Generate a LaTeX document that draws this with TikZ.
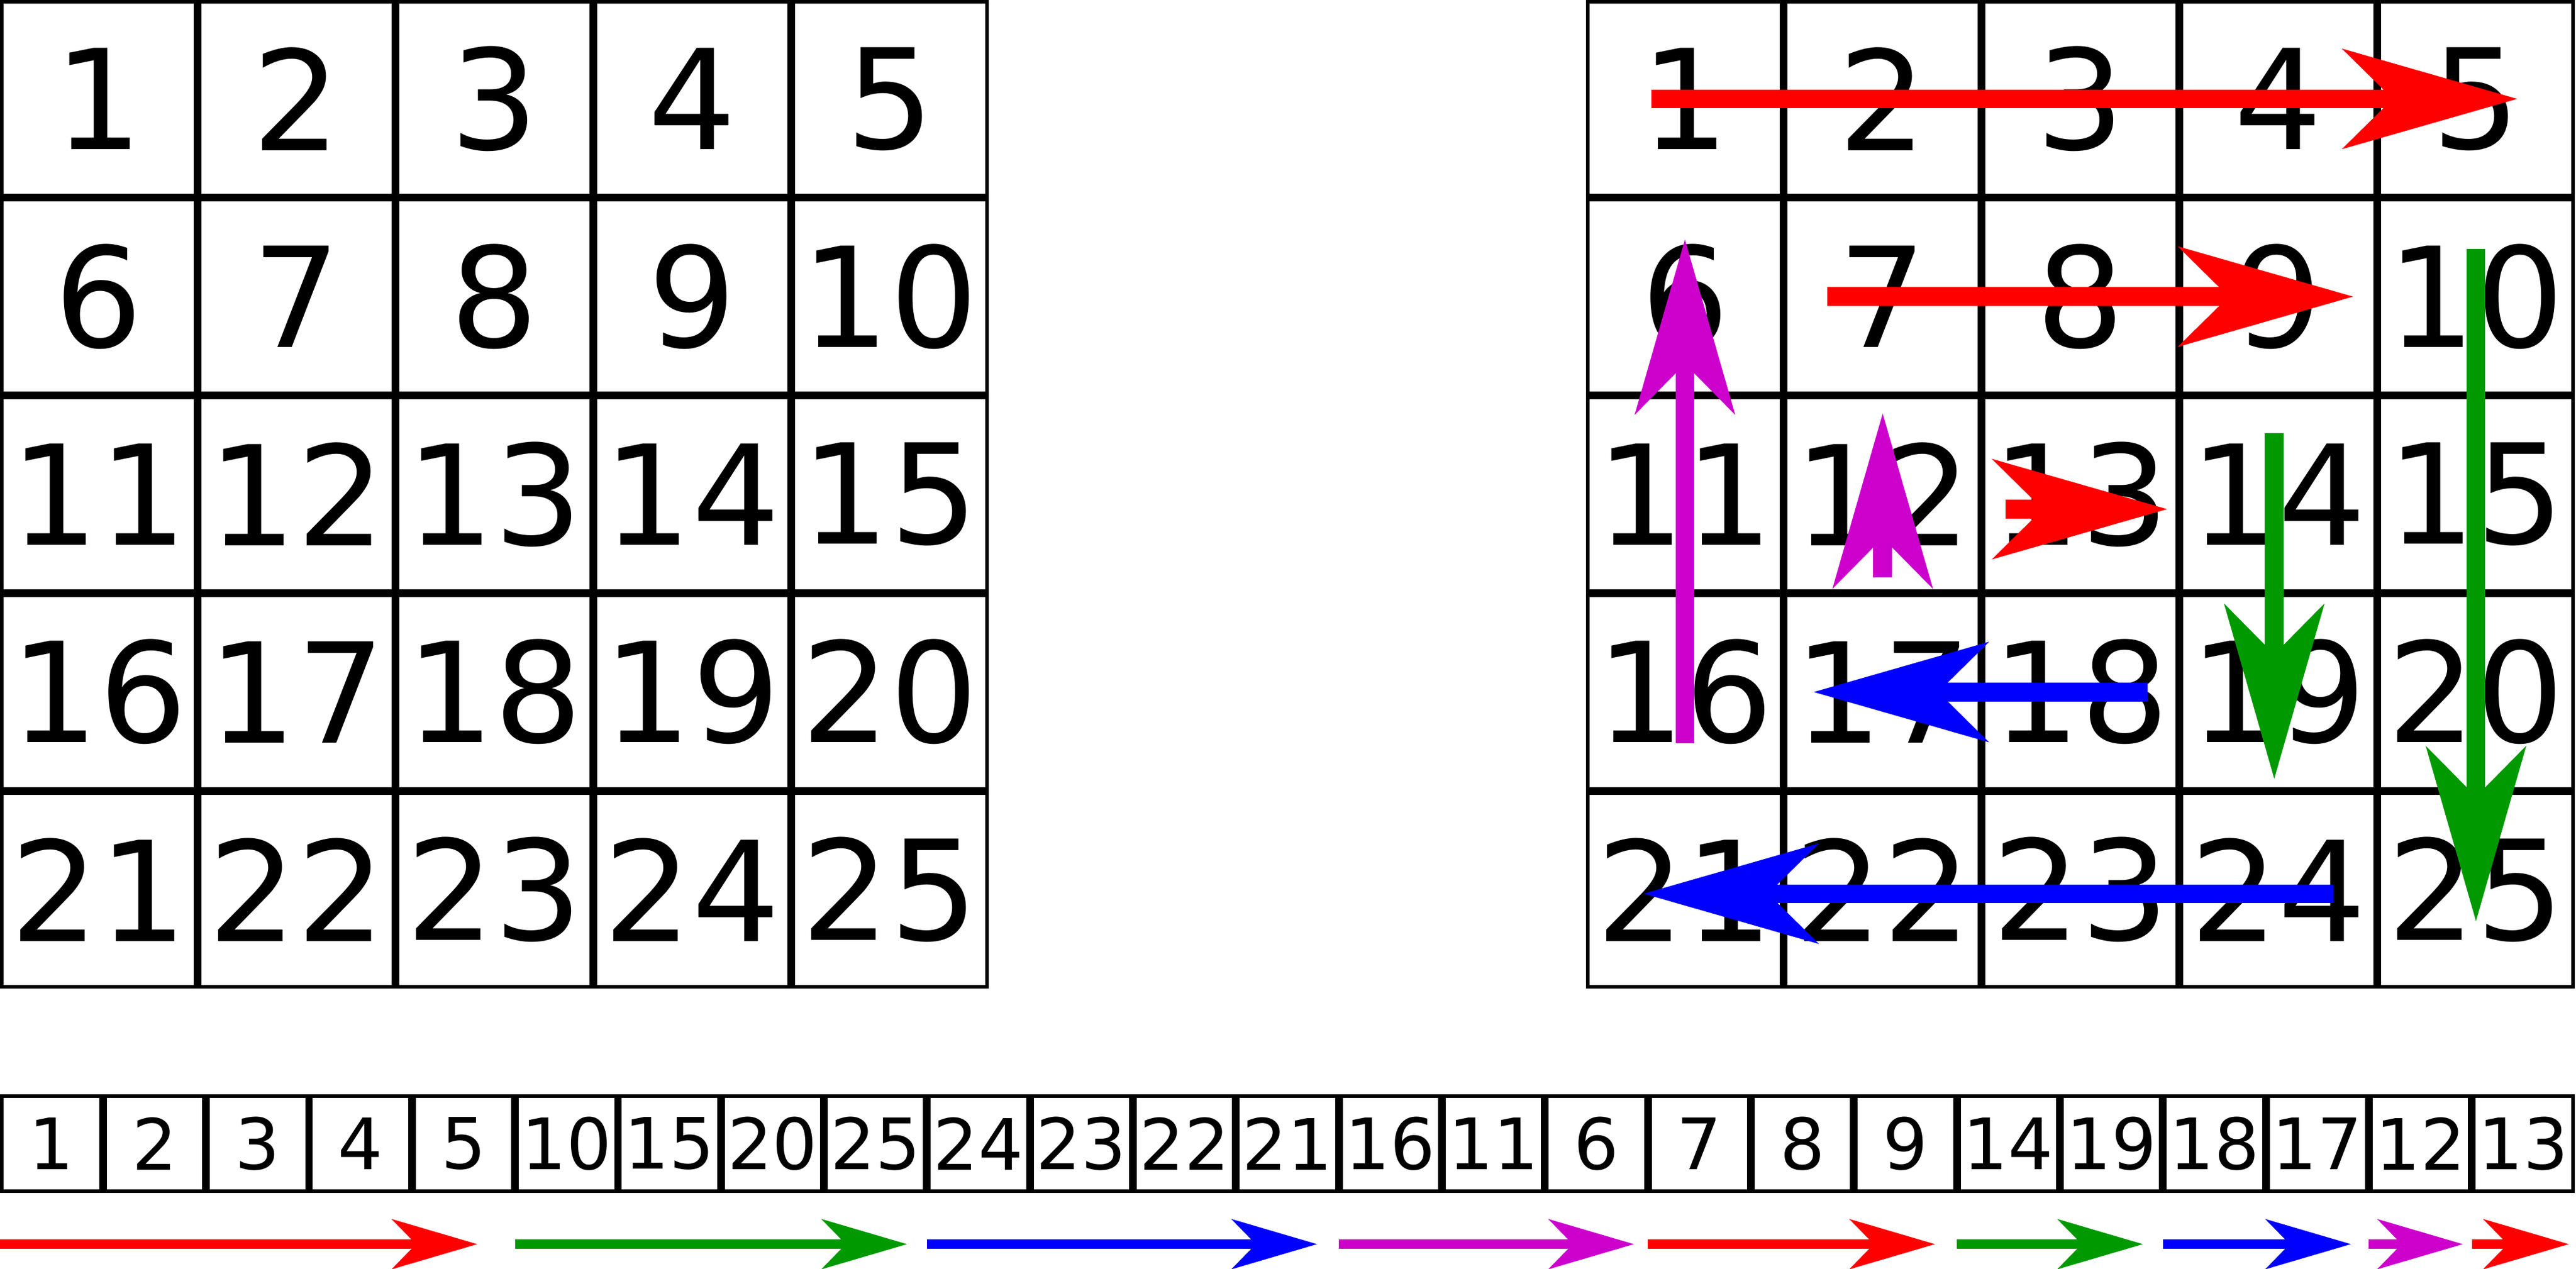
\documentclass[tikz,border=0pt]{standalone}
\usepackage{fontspec}
\setmainfont{DejaVu Sans}
\usepackage{tikz}
\usetikzlibrary{arrows.meta}
\definecolor{pathred}{RGB}{255,0,0}
\definecolor{pathgreen}{RGB}{0,153,0}
\definecolor{pathblue}{RGB}{0,0,255}
\definecolor{pathmagenta}{RGB}{204,0,204}
\tikzstyle{cell}=[draw,line width=0.55pt,minimum size=1cm-0.55pt,inner sep=0pt,font=\fontsize{20}{24}\selectfont]
\tikzstyle{scell}=[draw,line width=0.55pt,minimum width=0.5208cm-0.55pt,minimum height=0.5cm-0.55pt,inner sep=0pt,font=\fontsize{10.2}{12}\selectfont]
\tikzstyle{bigarrow}=[line width=2.7pt,-{Stealth[length=8.8mm,width=5mm,inset=2.5mm]}]
\tikzstyle{smallarrow}=[line width=1.4pt,-{Stealth[length=4.3mm,width=2.5mm,inset=1.2mm]}]
\newcommand{\rowgap}{-0.258cm}

\begin{document}
\begin{tikzpicture}
    \useasboundingbox (0,0) rectangle (13.026,-6.418);
% left grid
    \node[cell] (a1) at (0.5,-0.5) {1};
    \node[cell] (a2) at (1.5,-0.5) {2};
    \node[cell] (a3) at (2.5,-0.5) {3};
    \node[cell] (a4) at (3.5,-0.5) {4};
    \node[cell] (a5) at (4.5,-0.5) {5};
    \node[cell] (a6) at (0.5,-1.5) {6};
    \node[cell] (a7) at (1.5,-1.5) {7};
    \node[cell] (a8) at (2.5,-1.5) {8};
    \node[cell] (a9) at (3.5,-1.5) {9};
    \node[cell] (a10) at (4.5,-1.5) {10};
    \node[cell] (a11) at (0.5,-2.5) {11};
    \node[cell] (a12) at (1.5,-2.5) {12};
    \node[cell] (a13) at (2.5,-2.5) {13};
    \node[cell] (a14) at (3.5,-2.5) {14};
    \node[cell] (a15) at (4.5,-2.5) {15};
    \node[cell] (a16) at (0.5,-3.5) {16};
    \node[cell] (a17) at (1.5,-3.5) {17};
    \node[cell] (a18) at (2.5,-3.5) {18};
    \node[cell] (a19) at (3.5,-3.5) {19};
    \node[cell] (a20) at (4.5,-3.5) {20};
    \node[cell] (a21) at (0.5,-4.5) {21};
    \node[cell] (a22) at (1.5,-4.5) {22};
    \node[cell] (a23) at (2.5,-4.5) {23};
    \node[cell] (a24) at (3.5,-4.5) {24};
    \node[cell] (a25) at (4.5,-4.5) {25};
% right grid
    \node[cell] (b1) at (8.52,-0.5) {1};
    \node[cell] (b2) at (9.52,-0.5) {2};
    \node[cell] (b3) at (10.52,-0.5) {3};
    \node[cell] (b4) at (11.52,-0.5) {4};
    \node[cell] (b5) at (12.52,-0.5) {5};
    \node[cell] (b6) at (8.52,-1.5) {6};
    \node[cell] (b7) at (9.52,-1.5) {7};
    \node[cell] (b8) at (10.52,-1.5) {8};
    \node[cell] (b9) at (11.52,-1.5) {9};
    \node[cell] (b10) at (12.52,-1.5) {10};
    \node[cell] (b11) at (8.52,-2.5) {11};
    \node[cell] (b12) at (9.52,-2.5) {12};
    \node[cell] (b13) at (10.52,-2.5) {13};
    \node[cell] (b14) at (11.52,-2.5) {14};
    \node[cell] (b15) at (12.52,-2.5) {15};
    \node[cell] (b16) at (8.52,-3.5) {16};
    \node[cell] (b17) at (9.52,-3.5) {17};
    \node[cell] (b18) at (10.52,-3.5) {18};
    \node[cell] (b19) at (11.52,-3.5) {19};
    \node[cell] (b20) at (12.52,-3.5) {20};
    \node[cell] (b21) at (8.52,-4.5) {21};
    \node[cell] (b22) at (9.52,-4.5) {22};
    \node[cell] (b23) at (10.52,-4.5) {23};
    \node[cell] (b24) at (11.52,-4.5) {24};
    \node[cell] (b25) at (12.52,-4.5) {25};
% strip
    \node[scell] (s1) at (0.2604,-5.7845) {1};
    \node[scell] (s2) at (0.7812,-5.7845) {2};
    \node[scell] (s3) at (1.3020,-5.7845) {3};
    \node[scell] (s4) at (1.8228,-5.7845) {4};
    \node[scell] (s5) at (2.3436,-5.7845) {5};
    \node[scell] (s6) at (2.8644,-5.7845) {10};
    \node[scell] (s7) at (3.3852,-5.7845) {15};
    \node[scell] (s8) at (3.9060,-5.7845) {20};
    \node[scell] (s9) at (4.4268,-5.7845) {25};
    \node[scell] (s10) at (4.9476,-5.7845) {24};
    \node[scell] (s11) at (5.4684,-5.7845) {23};
    \node[scell] (s12) at (5.9892,-5.7845) {22};
    \node[scell] (s13) at (6.5100,-5.7845) {21};
    \node[scell] (s14) at (7.0308,-5.7845) {16};
    \node[scell] (s15) at (7.5516,-5.7845) {11};
    \node[scell] (s16) at (8.0724,-5.7845) {6};
    \node[scell] (s17) at (8.5932,-5.7845) {7};
    \node[scell] (s18) at (9.1140,-5.7845) {8};
    \node[scell] (s19) at (9.6348,-5.7845) {9};
    \node[scell] (s20) at (10.1556,-5.7845) {14};
    \node[scell] (s21) at (10.6764,-5.7845) {19};
    \node[scell] (s22) at (11.1972,-5.7845) {18};
    \node[scell] (s23) at (11.7180,-5.7845) {17};
    \node[scell] (s24) at (12.2388,-5.7845) {12};
    \node[scell] (s25) at (12.7596,-5.7845) {13};
% path through the right grid
    \draw[bigarrow,pathred] ([xshift=-0.17cm]b1.center) -- ([xshift=0.21cm]b5.center);
    \draw[bigarrow,pathgreen] ([yshift=0.24cm]b10.center) -- ([yshift=-0.16cm]b25.center);
    \draw[bigarrow,pathblue] ([xshift=0.28cm,yshift=-0.02cm]b24.center) -- ([xshift=-0.21cm,yshift=-0.02cm]b21.center);
    \draw[bigarrow,pathmagenta] ([yshift=-0.26cm]b16.center) -- ([yshift=0.29cm]b6.center);
    \draw[bigarrow,pathred] ([xshift=-0.28cm]b7.center) -- ([xshift=0.38cm]b9.center);
    \draw[bigarrow,pathgreen] ([xshift=-0.02cm,yshift=0.31cm]b14.center) -- ([xshift=-0.02cm,yshift=-0.44cm]b19.center);
    \draw[bigarrow,pathblue] ([xshift=0.34cm]b18.center) -- ([xshift=-0.35cm]b17.center);
    \draw[bigarrow,pathmagenta] ([yshift=-0.42cm]b12.center) -- ([yshift=0.41cm]b12.center);
    \draw[bigarrow,pathred] ([xshift=-0.38cm,yshift=-0.075cm]b13.center) -- ([xshift=0.44cm,yshift=-0.075cm]b13.center);
% arrows under the strip
    \draw[smallarrow,pathred] ([yshift=\rowgap]s1.south west) -- ([xshift=-0.19cm,yshift=\rowgap]s5.south east);
    \draw[smallarrow,pathgreen] ([yshift=\rowgap]s6.south west) -- ([xshift=-0.10cm,yshift=\rowgap]s9.south east);
    \draw[smallarrow,pathblue] ([yshift=\rowgap]s10.south west) -- ([xshift=-0.11cm,yshift=\rowgap]s13.south east);
    \draw[smallarrow,pathmagenta] ([yshift=\rowgap]s14.south west) -- ([xshift=-0.07cm,yshift=\rowgap]s16.south east);
    \draw[smallarrow,pathred] ([yshift=\rowgap]s17.south west) -- ([xshift=-0.11cm,yshift=\rowgap]s19.south east);
    \draw[smallarrow,pathgreen] ([yshift=\rowgap]s20.south west) -- ([xshift=-0.10cm,yshift=\rowgap]s21.south east);
    \draw[smallarrow,pathblue] ([yshift=\rowgap]s22.south west) -- ([xshift=-0.09cm,yshift=\rowgap]s23.south east);
    \draw[smallarrow,pathmagenta] ([yshift=\rowgap]s24.south west) -- ([xshift=-0.045cm,yshift=\rowgap]s24.south east);
    \draw[smallarrow,pathred] ([yshift=\rowgap]s25.south west) -- ([xshift=-0.03cm,yshift=\rowgap]s25.south east);
\end{tikzpicture}
\end{document}
